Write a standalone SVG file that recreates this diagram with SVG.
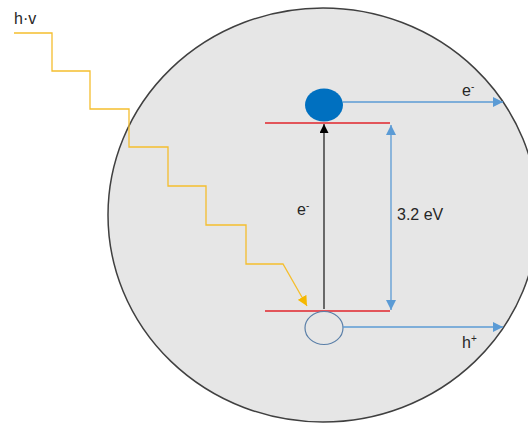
<svg xmlns="http://www.w3.org/2000/svg" width="528" height="425" viewBox="0 0 528 425">
<style>
text{font-family:"Liberation Sans",Arial,sans-serif;font-size:16px;fill:#262626}
.sup{font-size:10px}
.y{fill:none;stroke:#F5BE2E;stroke-width:1.3}
.b{fill:none;stroke:#5B9BD5;stroke-width:1.3}
.r{stroke:#E0242B;stroke-width:1.5}
</style>
<defs>
<marker id="ab" viewBox="0 0 10 10" refX="10" refY="5" markerWidth="10" markerHeight="10" markerUnits="userSpaceOnUse" orient="auto-start-reverse"><path d="M0,0 L10,5 L0,10 z" fill="#5B9BD5"/></marker>
<marker id="ak" viewBox="0 0 10 10" refX="10" refY="5" markerWidth="10" markerHeight="9" markerUnits="userSpaceOnUse" orient="auto"><path d="M0,0 L10,5 L0,10 z" fill="#000"/></marker>
<marker id="ay" viewBox="0 0 10 10" refX="10" refY="5" markerWidth="10" markerHeight="10" markerUnits="userSpaceOnUse" orient="auto"><path d="M0,0 L10,5 L0,10 z" fill="#F5B800"/></marker>
</defs>
<rect width="528" height="425" fill="#fff"/>
<g id="particle">
<ellipse cx="323" cy="215" rx="215" ry="207" fill="#E6E6E6" stroke="#404040" stroke-width="1.5"/>
</g>
<g id="levels">
<line class="r" x1="265" y1="123" x2="390" y2="123"/>
<line class="r" x1="265" y1="311" x2="390" y2="311"/>
</g>
<g id="electron">
<ellipse cx="324" cy="105" rx="19" ry="16.5" fill="#0070C0"/>
</g>
<g id="hole">
<ellipse cx="324" cy="328" rx="19" ry="16.5" fill="none" stroke="#5A7FA8" stroke-width="1.2"/>
</g>
<g id="connectors">
<polyline class="y" points="14,33 52,33 52,71 90,71 90,109 129,109 129,147 168,147 168,186 206,186 206,225 246,225 246,264 283,264 307,306" marker-end="url(#ay)"/>
<line x1="324" y1="309" x2="324" y2="124" stroke="#262626" stroke-width="1.3" marker-end="url(#ak)"/>
<line class="b" x1="391" y1="125" x2="391" y2="310" marker-start="url(#ab)" marker-end="url(#ab)"/>
<line class="b" x1="343" y1="102" x2="503" y2="102" marker-end="url(#ab)"/>
<line class="b" x1="343" y1="327" x2="503" y2="327" marker-end="url(#ab)"/>
</g>
<g id="labels">
<text x="14" y="24">h·v</text>
<text x="462" y="96">e<tspan class="sup" dy="-6">-</tspan></text>
<text x="462" y="348">h<tspan class="sup" dy="-6">+</tspan></text>
<text x="297" y="215">e<tspan class="sup" dy="-6">-</tspan></text>
<text x="397" y="220">3.2 eV</text>
</g>
</svg>
